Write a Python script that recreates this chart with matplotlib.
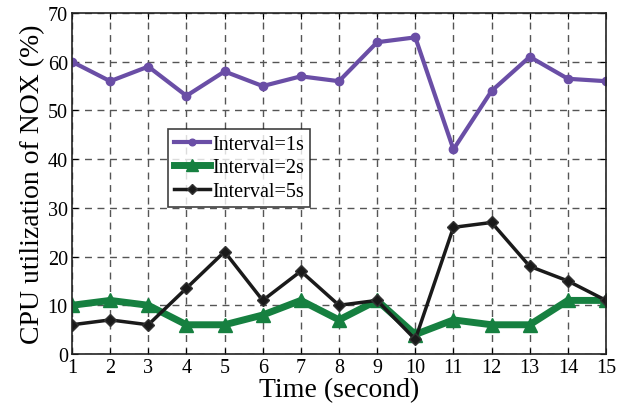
import matplotlib
matplotlib.use("Agg")
import matplotlib.pyplot as plt

time = list(range(1, 16))
interval_1s = [60, 56, 59, 53, 58, 55, 57, 56, 64, 65, 42, 54, 61, 56.5, 56]
interval_2s = [10, 11, 10, 6, 6, 8, 11, 7, 11, 4, 7, 6, 6, 11, 11]
interval_5s = [6, 7, 6, 13.5, 21, 11, 17, 10, 11, 3, 26, 27, 18, 15, 11]
labels = ["Interval=1s", "Interval=2s", "Interval=5s"]

plt.rcParams['font.family'] = ['Liberation Serif', 'DejaVu Serif']

fig = plt.figure(figsize=(6.26, 4.10), dpi=100)
ax = fig.add_axes([72/626, 1 - 355/410, 534/626, 341/410])

ax.plot(time, interval_1s, color='#6a4ea6', lw=3, marker='o', ms=6, label=labels[0])
ax.plot(time, interval_2s, color='#168040', lw=5, marker='^', ms=10, label=labels[1])
ax.plot(time, interval_5s, color='#1a1a1a', lw=2.5, marker='D', ms=6.5,
        markerfacecolor='#1a1a1a', markeredgecolor='#333333', label=labels[2])

ax.set_xlim(1, 15)
ax.set_ylim(0, 70)
ax.set_xticks(time)
ax.set_yticks(range(0, 71, 10))
ax.grid(True, linestyle=(0, (5, 4)), color='#555555', lw=1)
ax.tick_params(direction='in', top=True, right=True, labelsize=14.5, length=4)
ax.tick_params(axis='x', pad=3)
ax.tick_params(axis='y', pad=3)
for s in ax.spines.values():
    s.set_linewidth(1.2)
    s.set_color('#222222')
ax.set_xlabel("Time (second)", fontsize=20, labelpad=0)
ax.set_ylabel("CPU utilization of NOX (%)", fontsize=20, labelpad=2)

leg = ax.legend(loc='lower left', bbox_to_anchor=(0.18, 0.431), fontsize=14.5,
                frameon=True, fancybox=False, edgecolor='#111111', markerscale=0.8,
                borderpad=0.3, labelspacing=0.22, handlelength=1.8, handletextpad=0.1,
                borderaxespad=0)
leg.get_frame().set_linewidth(1.2)

fig.savefig("out.png", dpi=100)
